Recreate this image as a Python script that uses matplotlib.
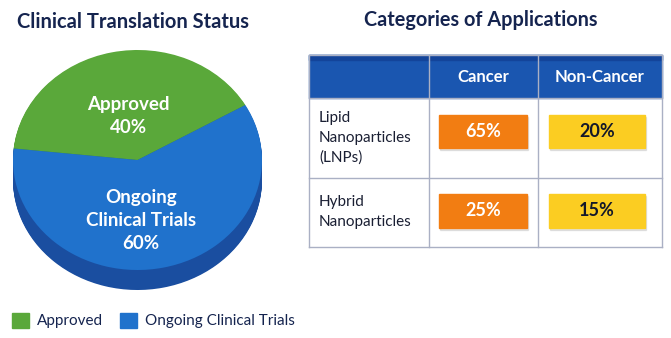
import matplotlib.pyplot as plt
from matplotlib.patches import Rectangle

plt.rcParams['font.family'] = ['Lato', 'DejaVu Sans']

# pie data
status_labels = ['Approved', 'Ongoing Clinical Trials']
status_values = [40, 60]
status_text = ['Approved\n40%', 'Ongoing\nClinical Trials\n60%']
top_colors = ['#5aa83a', '#2072cc']
side_colors = ['#3f8428', '#1a4ea0']

# table data
app_columns = ['Cancer', 'Non-Cancer']
app_rows = ['Lipid\nNanoparticles\n(LNPs)', 'Hybrid\nNanoparticles']
app_values = [[65, 20], [25, 15]]
badge_colors = ['#f27d12', '#fbcd22']
badge_text_colors = ['white', '#14182a']

navy = '#15244f'

fig = plt.figure(figsize=(6.71, 3.38), dpi=100)
ax = fig.add_axes([0, 0, 1, 1])
ax.set_xlim(0, 671)
ax.set_ylim(338, 0)
ax.axis('off')

# ---- left: pie ----
ax.text(133, 22, 'Clinical Translation Status', ha='center', va='center',
        fontsize=14.5, fontweight='bold', color=navy)

W, H = 671, 338
pax = fig.add_axes([13 / W, 1 - 290 / H, 249 / W, 240 / H])
depth = 20 / 110
n_layers = 25
start = 30
for i in range(n_layers):
    yoff = -depth + depth * i / n_layers
    pax.pie(status_values, colors=side_colors, startangle=start, counterclock=True,
            center=(0, yoff), radius=1, wedgeprops=dict(linewidth=0))
wedges, _ = pax.pie(status_values, colors=top_colors, startangle=start,
                    center=(0, 0), radius=1, wedgeprops=dict(linewidth=0))
pax.set_aspect('auto')
pax.set_xlim(-1, 1)
pax.set_ylim(-1 - depth, 1)
pax.axis('off')

pax.text(-0.07, 0.4, status_text[0], ha='center', va='center', color='white',
         fontsize=13.5, fontweight='bold', linespacing=1.4)
pax.text(0.03, -0.55, status_text[1], ha='center', va='center', color='white',
         fontsize=13.5, fontweight='bold', linespacing=1.4)

# legend
legend_x = [12, 120]
for i, lab in enumerate(status_labels):
    ax.add_patch(Rectangle((legend_x[i], 313), 17, 15, color=top_colors[i]))
    ax.text(legend_x[i] + 25, 321, lab, ha='left', va='center', fontsize=11, color=navy)

# ---- right: table ----
ax.text(481, 20, 'Categories of Applications', ha='center', va='center',
        fontsize=14.3, fontweight='bold', color=navy)

col_x = [309, 429, 538, 662]
row_y = [55, 98, 178, 247]
line_c = '#aab0c4'

ax.add_patch(Rectangle((col_x[0], row_y[0]), col_x[-1] - col_x[0], row_y[1] - row_y[0],
                       color='#1a56b0', zorder=1))
ax.add_patch(Rectangle((col_x[0], row_y[0]), col_x[-1] - col_x[0], 5,
                       color='#13449a', zorder=1))
for x in col_x:
    ax.plot([x, x], [row_y[0], row_y[-1]], color=line_c, lw=1, zorder=2)
for y in row_y:
    ax.plot([col_x[0], col_x[-1]], [y, y], color=line_c, lw=1, zorder=2)

for j, c in enumerate(app_columns):
    ax.text((col_x[j + 1] + col_x[j + 2]) / 2, 77, c, ha='center', va='center',
            fontsize=12, fontweight='bold', color='white', zorder=3)

badge_y = [[115, 148], [194, 228]]
badge_x = [[439, 527], [549, 645]]
label_y = [138, 212]
for i, r in enumerate(app_rows):
    ax.text(319, label_y[i], r, ha='left', va='center', fontsize=11,
            color='#1a1f33', linespacing=1.5)
    for j in range(len(app_columns)):
        x0, x1 = badge_x[j]
        y0, y1 = badge_y[i]
        ax.add_patch(Rectangle((x0 + 1, y0 + 2), x1 - x0, y1 - y0,
                               color='#00000018', zorder=2))
        ax.add_patch(Rectangle((x0, y0), x1 - x0, y1 - y0, color=badge_colors[j], zorder=3))
        ax.text((x0 + x1) / 2, (y0 + y1) / 2, f'{app_values[i][j]}%', ha='center',
                va='center', fontsize=13, fontweight='bold',
                color=badge_text_colors[j], zorder=4)

fig.savefig('out.png', dpi=100)
